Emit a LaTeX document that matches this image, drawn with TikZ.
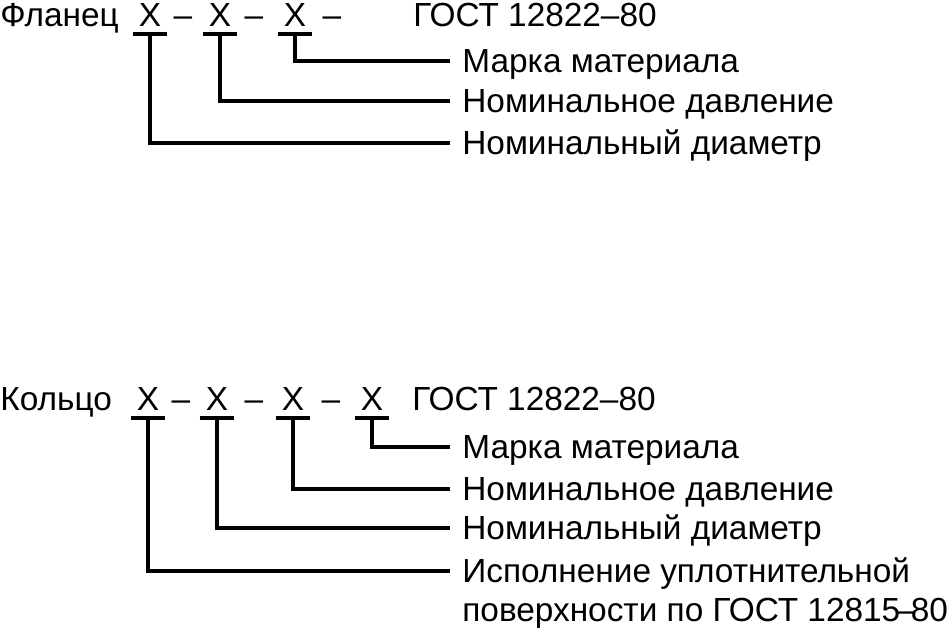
\documentclass[tikz,border=0pt]{standalone}
\usepackage{fontspec}
\setmainfont{Liberation Sans}
\usetikzlibrary{positioning, calc}

\begin{document}
\begin{tikzpicture}[
    x=0.02cm, y=-0.02cm,
    font=\fontsize{19}{22}\selectfont,
    word/.style={anchor=base west, inner sep=0},
    xmark/.style={anchor=base, inner xsep=0, inner ysep=0, text depth=0.145cm, minimum width=0.68cm},
    dashmark/.style={anchor=base, inner sep=0},
    legend/.style={anchor=west, inner ysep=0, inner xsep=0.24cm, text height=13.6pt, text depth=0pt},
    lead/.style={line width=2.2pt}
]
    \useasboundingbox (0,0) rectangle (951,629);

    % flange designation
    \node [word] (flange) at (0,26) {Фланец};
    \node [xmark] (fx1) at (150,26) {X};
    \node [dashmark] (fd1) at (183,26) {–};
    \node [xmark] (fx2) at (220,26) {X};
    \node [dashmark] (fd2) at (254,26) {–};
    \node [xmark] (fx3) at (295,26) {X};
    \node [dashmark] (fd3) at (332,26) {–};
    \node [word] (fgost) at (413,26) {ГОСТ 12822–80};

    \node [legend] (fmat) at (450,61) {Марка материала};
    \node [legend] (fpres) at (450,101) {Номинальное давление};
    \node [legend] (fdiam) at (450,143) {Номинальный диаметр};

    \foreach \x in {fx1,fx2,fx3}
        \draw [lead] (\x.south west) -- (\x.south east);
    \draw [lead] (fx3.south) |- (fmat.west);
    \draw [lead] (fx2.south) |- (fpres.west);
    \draw [lead] (fx1.south) |- (fdiam.west);

    % ring designation
    \node [word] (ring) at (0,410) {Кольцо};
    \node [xmark] (kx1) at (148,410) {X};
    \node [dashmark] (kd1) at (181,410) {–};
    \node [xmark] (kx2) at (217,410) {X};
    \node [dashmark] (kd2) at (254,410) {–};
    \node [xmark] (kx3) at (293,410) {X};
    \node [dashmark] (kd3) at (331,410) {–};
    \node [xmark] (kx4) at (372,410) {X};
    \node [word] (kgost) at (412,410) {ГОСТ 12822–80};

    \node [legend] (kmat) at (450,447) {Марка материала};
    \node [legend] (kpres) at (450,489) {Номинальное давление};
    \node [legend] (kdiam) at (450,528) {Номинальный диаметр};
    \node [legend] (ksurf) at (450,571) {Исполнение уплотнительной};
    \node [legend] (ksurf2) at (450,610) {поверхности по ГОСТ 12815\kern-0.08cm–\kern-0.08cm80};

    \foreach \x in {kx1,kx2,kx3,kx4}
        \draw [lead] (\x.south west) -- (\x.south east);
    \draw [lead] (kx4.south) |- (kmat.west);
    \draw [lead] (kx3.south) |- (kpres.west);
    \draw [lead] (kx2.south) |- (kdiam.west);
    \draw [lead] (kx1.south) |- (ksurf.west);
\end{tikzpicture}
\end{document}
